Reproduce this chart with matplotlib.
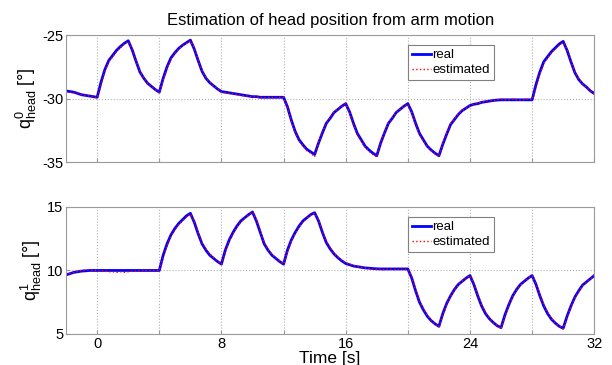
import numpy as np
import matplotlib
matplotlib.use("Agg")
import matplotlib.pyplot as plt

plt.rcParams['font.family'] = ['Liberation Sans', 'DejaVu Sans']
plt.rcParams['mathtext.fontset'] = 'custom'
plt.rcParams['mathtext.rm'] = 'Liberation Sans'
plt.rcParams['mathtext.it'] = 'Liberation Sans'
plt.rcParams['axes.unicode_minus'] = False

# time samples every 0.25 s
time = np.arange(-2, 32.001, 0.25)

head0_real = [-29.4, -29.45, -29.5, -29.6, -29.7, -29.75, -29.8, -29.85, -29.9,
              -28.7, -27.7, -27.0, -26.6, -26.2, -25.9, -25.65, -25.45,
              -26.15, -27.05, -27.9, -28.4, -28.8, -29.05, -29.3, -29.5,
              -28.4, -27.5, -26.8, -26.4, -26.05, -25.8, -25.6, -25.4,
              -26.1, -27.0, -27.85, -28.4, -28.75, -29.0, -29.25, -29.45,
              -29.5, -29.55, -29.6, -29.65, -29.7, -29.75, -29.8, -29.85,
              -29.85, -29.9, -29.9, -29.9, -29.9, -29.9, -29.9, -29.9,
              -30.65, -31.7, -32.6, -33.25, -33.65, -34.0, -34.2, -34.4,
              -33.5, -32.7, -31.95, -31.55, -31.1, -30.85, -30.6, -30.4,
              -31.05, -31.95, -32.75, -33.25, -33.75, -34.05, -34.3, -34.5,
              -33.5, -32.7, -31.95, -31.55, -31.1, -30.85, -30.6, -30.4,
              -31.05, -31.95, -32.75, -33.25, -33.75, -34.05, -34.3, -34.5,
              -33.6, -32.8, -32.05, -31.65, -31.25, -30.95, -30.75, -30.55,
              -30.45, -30.4, -30.3, -30.25, -30.2, -30.15, -30.12, -30.1,
              -30.1, -30.1, -30.1, -30.1, -30.1, -30.1, -30.1, -30.1,
              -28.9, -27.9, -27.1, -26.7, -26.3, -26.0, -25.7, -25.5,
              -26.2, -27.1, -27.95, -28.5, -28.85, -29.1, -29.4, -29.6]

head0_est = [-29.5, -29.5, -29.55, -29.6, -29.7, -29.75, -29.8, -29.85, -29.95,
             -28.9, -27.85, -27.1, -26.7, -26.3, -26.0, -25.7, -25.5,
             -26.05, -27.0, -27.85, -28.4, -28.8, -29.1, -29.3, -29.55,
             -28.55, -27.6, -26.9, -26.5, -26.1, -25.85, -25.65, -25.45,
             -26.0, -26.95, -27.8, -28.35, -28.7, -29.0, -29.25, -29.5,
             -29.55, -29.6, -29.6, -29.7, -29.75, -29.8, -29.8, -29.85,
             -29.9, -29.9, -29.95, -29.9, -29.9, -29.95, -29.9, -29.9,
             -30.7, -31.8, -32.7, -33.35, -33.75, -34.1, -34.3, -34.6,
             -33.45, -32.6, -31.9, -31.5, -31.05, -30.8, -30.6, -30.4,
             -31.1, -32.05, -32.85, -33.35, -33.85, -34.15, -34.4, -34.6,
             -33.45, -32.65, -31.9, -31.5, -31.1, -30.85, -30.6, -30.45,
             -31.1, -32.05, -32.85, -33.35, -33.8, -34.1, -34.35, -34.55,
             -33.5, -32.7, -32.0, -31.6, -31.2, -30.95, -30.75, -30.6,
             -30.45, -30.35, -30.3, -30.2, -30.15, -30.15, -30.1, -30.05,
             -30.1, -30.1, -30.05, -30.1, -30.1, -30.1, -30.05, -30.1,
             -29.1, -28.1, -27.25, -26.8, -26.4, -26.1, -25.8, -25.6,
             -26.1, -27.0, -27.9, -28.45, -28.85, -29.15, -29.4, -29.65]

head1_real = [9.65, 9.75, 9.85, 9.9, 9.95, 9.97, 10.0, 10.0, 10.0,
              10.0, 10.0, 10.0, 10.0, 10.0, 10.0, 10.0, 10.0,
              10.0, 10.0, 10.0, 10.0, 10.0, 10.0, 10.0, 10.0,
              11.2, 12.1, 12.8, 13.3, 13.7, 14.0, 14.3, 14.5,
              13.8, 12.9, 12.1, 11.6, 11.2, 10.95, 10.7, 10.5,
              11.6, 12.4, 13.0, 13.5, 13.9, 14.15, 14.4, 14.6,
              13.9, 13.0, 12.1, 11.6, 11.2, 10.95, 10.7, 10.5,
              11.6, 12.4, 13.0, 13.5, 13.9, 14.15, 14.4, 14.55,
              13.9, 13.0, 12.2, 11.7, 11.3, 11.0, 10.75, 10.55,
              10.45, 10.35, 10.3, 10.25, 10.2, 10.18, 10.15, 10.13,
              10.12, 10.12, 10.12, 10.12, 10.12, 10.12, 10.12, 10.12,
              9.4, 8.4, 7.5, 6.9, 6.4, 6.05, 5.8, 5.6,
              6.6, 7.4, 8.0, 8.5, 8.9, 9.15, 9.4, 9.6,
              8.9, 8.0, 7.2, 6.6, 6.2, 5.9, 5.65, 5.5,
              6.5, 7.3, 8.0, 8.5, 8.9, 9.15, 9.4, 9.6,
              8.9, 8.0, 7.2, 6.6, 6.15, 5.85, 5.6, 5.45,
              6.4, 7.2, 7.9, 8.4, 8.85, 9.1, 9.35, 9.6]

head1_est = [9.6, 9.75, 9.85, 9.95, 10.0, 10.05, 10.05, 10.0, 10.0,
             9.95, 9.95, 9.9, 9.9, 9.85, 9.9, 9.85, 9.9,
             9.95, 9.95, 10.0, 10.0, 10.0, 10.0, 10.0, 10.0,
             11.0, 11.95, 12.7, 13.2, 13.6, 13.9, 14.2, 14.45,
             13.9, 13.0, 12.2, 11.7, 11.3, 11.0, 10.75, 10.5,
             11.45, 12.3, 12.9, 13.4, 13.8, 14.1, 14.35, 14.6,
             14.0, 13.1, 12.2, 11.65, 11.25, 11.0, 10.75, 10.5,
             11.45, 12.3, 12.9, 13.4, 13.8, 14.1, 14.35, 14.5,
             14.0, 13.1, 12.3, 11.8, 11.35, 11.05, 10.8, 10.6,
             10.5, 10.4, 10.3, 10.25, 10.2, 10.15, 10.1, 10.1,
             10.1, 10.05, 10.1, 10.1, 10.05, 10.1, 10.1, 10.1,
             9.5, 8.5, 7.6, 7.0, 6.45, 6.1, 5.8, 5.55,
             6.5, 7.3, 7.95, 8.45, 8.85, 9.15, 9.4, 9.6,
             9.0, 8.1, 7.3, 6.7, 6.25, 5.9, 5.65, 5.4,
             6.4, 7.2, 7.95, 8.45, 8.85, 9.1, 9.4, 9.6,
             9.0, 8.1, 7.3, 6.7, 6.2, 5.9, 5.6, 5.4,
             6.3, 7.1, 7.85, 8.35, 8.8, 9.1, 9.35, 9.6]

fig = plt.figure(figsize=(6.12, 3.65), dpi=100)
ax0 = fig.add_axes([0.108, 0.556, 0.863, 0.348])
ax1 = fig.add_axes([0.108, 0.085, 0.863, 0.348])

def style_axes(ax, yticks, ylim):
    ax.set_xlim(-2, 32)
    ax.set_ylim(*ylim)
    ax.set_yticks(yticks)
    ax.set_xticks(np.arange(0, 33, 4))
    ax.grid(True, color="#b0b0b0", linestyle=":", linewidth=0.8)
    for sp in ax.spines.values():
        sp.set_color("#9a9a9a")
    ax.tick_params(direction="in", length=3, color="#9a9a9a", labelsize=10.5, pad=2)

ax0.plot(time, head0_real, color="blue", linewidth=2, label="real")
ax0.plot(time, head0_est, color="red", linestyle=":", linewidth=1, label="estimated")
style_axes(ax0, [-35, -30, -25], (-35, -25))
ax0.set_xticklabels([])
ax0.set_ylabel(r"$\mathregular{q^{0}_{head}}$ [°]", fontsize=13, labelpad=2)
ax0.set_title("Estimation of head position from arm motion", fontsize=12, pad=7)

ax1.plot(time, head1_real, color="blue", linewidth=2, label="real")
ax1.plot(time, head1_est, color="red", linestyle=":", linewidth=1, label="estimated")
style_axes(ax1, [5, 10, 15], (5, 15))
ax1.set_xticklabels(["0", "", "8", "", "16", "", "24", "", "32"])
ax1.set_ylabel(r"$\mathregular{q^{1}_{head}}$ [°]", fontsize=13, labelpad=2)
ax1.set_xlabel("Time [s]", fontsize=12.5, labelpad=0)

for ax in (ax0, ax1):
    leg = ax.legend(loc="upper left", bbox_to_anchor=(0.648, 0.92), fontsize=9.5,
                    handlelength=1.4, handletextpad=0.1, borderpad=0.3,
                    labelspacing=0.2, fancybox=False, framealpha=1,
                    borderaxespad=0)
    leg.get_frame().set_edgecolor("#808080")
    leg.get_frame().set_linewidth(0.8)

fig.savefig("out.png", dpi=100)
